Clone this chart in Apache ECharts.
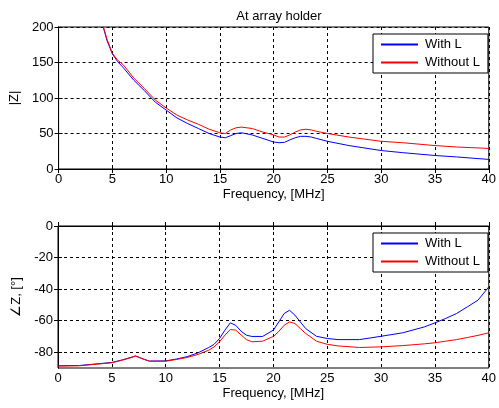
<!DOCTYPE html>
<html>
<head>
<meta charset="utf-8">
<script src="https://cdn.jsdelivr.net/npm/echarts@6/dist/echarts.min.js"></script>
<style>
html,body{margin:0;padding:0;background:#fff;}
#chart{width:499px;height:408px;}
</style>
</head>
<body>
<div id="chart"></div>
<script>
// |Z| vs frequency (MHz)
var magFreq = [4.15, 4.5, 5, 5.5, 6, 7, 8, 9, 10, 11, 12, 13, 14, 15, 15.5, 16, 16.5, 17, 18, 19, 20, 20.5, 21, 21.5, 22, 22.5, 23, 23.5, 24, 25, 27, 30, 32, 35, 37, 40];
var magWithL = [200, 181, 162, 151, 143, 125, 110, 94, 83, 72, 64, 57, 50, 45, 44, 47, 50, 51, 48, 43, 38, 37, 37.5, 41, 44, 46, 46, 45, 43, 39, 33, 26, 23, 19, 17, 13.5];
var magWithoutL = [201, 183, 163, 153, 147, 128, 113, 97, 86, 76, 69, 63, 56, 51, 50, 55, 58, 59, 57, 52, 48, 45, 45, 48, 52, 55, 56, 55, 53, 50, 45, 39, 37, 33, 31, 29];

// phase of Z vs frequency (MHz)
var phFreq = [0, 2, 5, 6, 7, 7.2, 8, 8.5, 10, 11, 12, 13, 14, 14.5, 15, 15.5, 16, 16.5, 17, 17.5, 18, 19, 20, 20.5, 21, 21.5, 22, 22.5, 23, 24, 25, 26, 28, 30, 32, 34, 35, 36, 37, 38, 39, 40];
var phWithL = [-88.6, -88.4, -86.5, -84.8, -82.8, -82.3, -84.5, -85.6, -85.5, -84.3, -82.8, -80.4, -77, -75, -71.3, -66, -61.4, -62.9, -66.7, -69.2, -70, -70, -66, -60.8, -55.5, -53.4, -56.5, -60.8, -65, -69.9, -71.3, -72, -72, -69.9, -67.7, -64, -61.4, -58.6, -55.5, -51.3, -47, -38.6];
var phWithoutL = [-88.8, -88.6, -86.7, -85, -83, -82.5, -84.6, -85.7, -85.7, -84.6, -83.3, -81.4, -78.7, -76.6, -73.4, -69.2, -65.6, -66, -69, -72, -73.4, -73, -70, -66.8, -62.9, -60.8, -61.8, -65, -68.1, -73, -75, -76, -77, -76.6, -75.8, -74.7, -74, -73, -72, -70.7, -69.3, -67.7];

var phTicks = [-80, -60, -40, -20, 0];
var legendNames = ['With L', 'Without L'];
var colors = ['#0000ff', '#ff0000'];

function pairs(xs, ys){
    var out = [];
    for (var i=0;i<xs.length;i++){
        out.push([xs[i], ys[i]]);
    }
    return out;
}

var font = 'Liberation Sans';
var fs = 13;
var gridLine = {show: true, lineStyle: {color: '#000', type: [3, 3], width: 1}};
var tick = {show: true, inside: true, length: 4, lineStyle: {color: '#000'}};

function xAxisFor(idx){
    return {
        type: 'value', gridIndex: idx, min: 0, max: 40, interval: 5,
        name: 'Frequency, [MHz]', nameLocation: 'middle', nameGap: 19,
        nameTextStyle: {color: '#000', fontFamily: font, fontSize: fs},
        axisLine: {show: true, lineStyle: {color: '#000'}},
        axisTick: tick,
        axisLabel: {color: '#000', fontFamily: font, fontSize: fs, margin: 4},
        splitLine: gridLine
    };
}
// mirror axis on top, ticks only
function xTopFor(idx){
    return {
        type: 'value', gridIndex: idx, position: 'top', min: 0, max: 40, interval: 5,
        axisLine: {show: true, lineStyle: {color: '#000'}},
        axisTick: tick, axisLabel: {show: false}, splitLine: {show: false}
    };
}

function yAxisFor(idx, min, max, interval, name){
    return {
        type: 'value', gridIndex: idx, min: min, max: max, interval: interval,
        name: name, nameLocation: 'middle', nameGap: 30, nameRotate: 90,
        nameTextStyle: {color: '#000', fontFamily: font, fontSize: fs},
        axisLine: {show: true, lineStyle: {color: '#000'}},
        axisTick: {show: true, inside: true, length: 4, lineStyle: {color: '#000'}},
        axisLabel: {color: '#000', fontFamily: font, fontSize: fs, margin: 5},
        splitLine: gridLine
    };
}
function yRightFor(idx, min, max, interval){
    return {
        type: 'value', gridIndex: idx, position: 'right', min: min, max: max, interval: interval,
        axisLine: {show: true, lineStyle: {color: '#000'}},
        axisTick: {show: true, inside: true, length: 4, lineStyle: {color: '#000'}},
        axisLabel: {show: false}, splitLine: {show: false}
    };
}

// series names carry a panel prefix so each legend finds its own series
function legendAt(top, prefix){
    return {
        data: legendNames.map(function(n, i){
            return {
                name: prefix + n,
                icon: 'path://M0,0H40V2H0Z',
                itemStyle: {color: colors[i], borderWidth: 0, borderColor: colors[i]}
            };
        }),
        formatter: function(name){ return name.slice(prefix.length); },
        left: 373, top: top, orient: 'vertical',
        itemWidth: 37, itemHeight: 2,
        backgroundColor: '#fff', borderColor: '#000', borderWidth: 1, borderRadius: 0,
        padding: [4, 8, 4, 8], itemGap: 5,
        textStyle: {color: '#000', fontFamily: font, fontSize: fs, padding: [0, 0, 0, 2]},
        selectedMode: false
    };
}

function lineSeries(name, xi, yi, data, color){
    return {
        name: name, type: 'line', xAxisIndex: xi, yAxisIndex: yi,
        data: data, showSymbol: false, symbol: 'none', smooth: false,
        lineStyle: {color: color, width: 1}, itemStyle: {color: color},
        animation: false
    };
}

var phAxis = yAxisFor(1, -90, 0, 10, '\u2220Z, [\u00b0]');
phAxis.axisLabel.customValues = phTicks;
phAxis.axisTick.customValues = phTicks;
var phRight = yRightFor(1, -90, 0, 10);
phRight.axisTick.customValues = phTicks;

var option = {
    backgroundColor: '#fff',
    animation: false,
    title: {
        text: 'At array holder', left: 274, top: 5, textAlign: 'center',
        textStyle: {color: '#000', fontFamily: font, fontSize: fs, fontWeight: 'normal'}
    },
    grid: [
        {left: 58, top: 27, width: 433, height: 142, show: true, borderColor: '#000', borderWidth: 1},
        {left: 58, top: 226, width: 433, height: 142, show: true, borderColor: '#000', borderWidth: 1}
    ],
    legend: [legendAt(34, 'mag:'), legendAt(233, 'ph:')],
    xAxis: [xAxisFor(0), xAxisFor(1), xTopFor(0), xTopFor(1)],
    yAxis: [yAxisFor(0, 0, 200, 50, '|Z|'), phAxis, yRightFor(0, 0, 200, 50), phRight],
    series: [
        lineSeries('mag:' + legendNames[0], 0, 0, pairs(magFreq, magWithL), colors[0]),
        lineSeries('mag:' + legendNames[1], 0, 0, pairs(magFreq, magWithoutL), colors[1]),
        lineSeries('ph:' + legendNames[0], 1, 1, pairs(phFreq, phWithL), colors[0]),
        lineSeries('ph:' + legendNames[1], 1, 1, pairs(phFreq, phWithoutL), colors[1])
    ]
};

var chart = echarts.init(document.getElementById('chart'));
chart.setOption(option);
</script>
</body>
</html>
